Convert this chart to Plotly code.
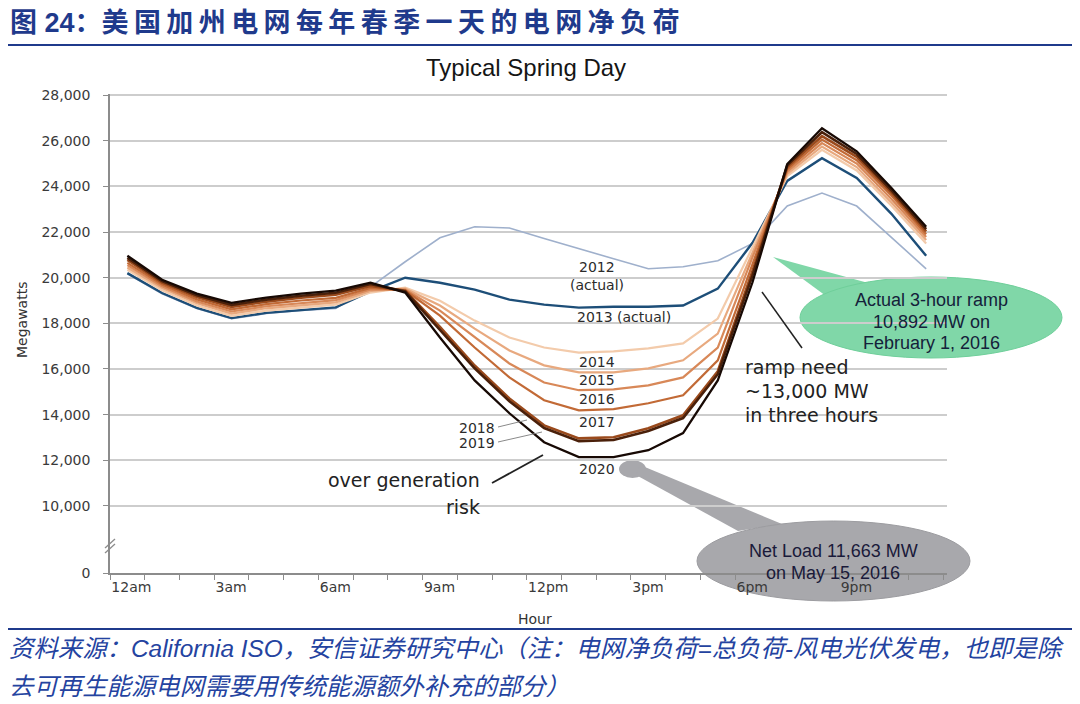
import plotly.graph_objects as go

# ---------------- data ----------------
hour_ending = list(range(1, 25))
years = ["2012", "2013", "2014", "2015", "2016", "2017", "2018", "2019", "2020"]

load_2012 = [20170, 19300, 18650, 18200, 18430, 18560, 18650, 19600, 20700, 21750, 22230, 22180,
             21720, 21290, 20830, 20390, 20480, 20740, 21500, 23140, 23710, 23140, 21750, 20390]
load_2013 = [20200, 19330, 18680, 18230, 18460, 18590, 18700, 19400, 20000, 19780, 19480, 19040,
             18820, 18690, 18730, 18730, 18780, 19520, 21530, 24240, 25240, 24370, 22800, 20960]
load_2014 = [20350, 19450, 18780, 18330, 18560, 18700, 18820, 19350, 19560, 18990, 18120, 17380,
             16940, 16720, 16770, 16900, 17120, 18210, 21300, 24450, 25600, 24700, 23150, 21500]
load_2015 = [20450, 19550, 18880, 18430, 18660, 18800, 18920, 19420, 19520, 18780, 17770, 16810,
             16160, 15850, 15850, 16030, 16380, 17550, 21100, 24550, 25750, 24850, 23300, 21650]
load_2016 = [20550, 19620, 18960, 18520, 18750, 18900, 19020, 19480, 19480, 18560, 17380, 16240,
             15410, 15070, 15110, 15280, 15630, 16940, 20900, 24650, 25900, 25000, 23450, 21780]
load_2017 = [20650, 19700, 19050, 18610, 18840, 19000, 19120, 19550, 19450, 18340, 16940, 15630,
             14630, 14190, 14240, 14500, 14850, 16380, 20600, 24750, 26050, 25150, 23600, 21900]
load_2018 = [20780, 19780, 19150, 18720, 18950, 19120, 19250, 19640, 19430, 17850, 16150, 14710,
             13530, 12960, 13010, 13400, 13970, 15900, 20300, 24850, 26200, 25300, 23730, 22030]
load_2019 = [20870, 19850, 19230, 18810, 19040, 19210, 19340, 19720, 19400, 17730, 16030, 14590,
             13410, 12840, 12890, 13280, 13850, 15770, 20100, 24920, 26380, 25420, 23830, 22130]
load_2020 = [20960, 19910, 19300, 18900, 19130, 19300, 19430, 19780, 19350, 17380, 15500, 14060,
             12790, 12140, 12140, 12440, 13190, 15500, 19800, 24980, 26550, 25540, 23930, 22230]

series = [load_2012, load_2013, load_2014, load_2015, load_2016, load_2017, load_2018, load_2019, load_2020]

y_tick_values = [10000, 12000, 14000, 16000, 18000, 20000, 22000, 24000, 26000, 28000]
y_tick_labels = ["10,000", "12,000", "14,000", "16,000", "18,000", "20,000", "22,000", "24,000", "26,000", "28,000"]
y_break_value = 7060          # axis bottom, labelled "0" (broken axis)
x_tick_labels = ["12am", "3am", "6am", "9am", "12pm", "3pm", "6pm", "9pm"]

# ---------------- styles ----------------
colors = ["#9fb0cc", "#1d4e78", "#f3cbab", "#e8a97f", "#d88858", "#c26a36", "#9a4a1c", "#4a200a", "#170904"]
widths = [1.6, 2.4, 2.2, 2.2, 2.2, 2.2, 2.6, 2.6, 2.3]

# screen-pixel layout (page body has an 8px margin)
OFF = 8
L, R, T, B = 110, 947, 94, 573
W, H = 1080 - OFF, 704 - OFF


def px(x):
    return (x - L) / (R - L)


def py(y):
    return (B - y) / (B - T)


fig = go.Figure()
for yr, vals, c, w in zip(years, series, colors, widths):
    fig.add_trace(go.Scatter(x=hour_ending, y=vals, mode="lines", name=yr,
                             line=dict(color=c, width=w), hoverinfo="skip", showlegend=False))

# x ticks every hour, labels every 3 hours; 12am sits half an hour before hour-ending 1
xt_vals = [k + 0.5 for k in range(25)]
xt_text = [x_tick_labels[k // 3] if (k % 3 == 0 and k < 24) else "" for k in range(25)]

axis_col = "#8c8c8c"
tick_font = dict(family="DejaVu Sans", size=14, color="#3a3a3a")

fig.update_layout(
    width=W, height=H, autosize=False,
    margin=dict(l=L - OFF, r=W - (R - OFF), t=T - OFF, b=H - (B - OFF), pad=0),
    paper_bgcolor="white", plot_bgcolor="white",
    xaxis=dict(range=[0.5, 24.6], tickmode="array", tickvals=xt_vals, ticktext=xt_text,
               ticks="outside", ticklen=5, tickcolor=axis_col, tickwidth=1.2,
               showline=True, linecolor=axis_col, linewidth=1.5, showgrid=False, zeroline=False,
               tickfont=tick_font, ticklabelposition="outside right"),
    yaxis=dict(range=[y_break_value, 28050], tickmode="array",
               tickvals=[y_break_value] + y_tick_values, ticktext=["0"] + y_tick_labels,
               ticks="outside", ticklen=5, tickcolor=axis_col, tickwidth=1.2,
               showline=True, linecolor=axis_col, linewidth=1.5,
               showgrid=True, gridcolor="#cdcdcd", gridwidth=1.5, zeroline=False,
               tickfont=tick_font, ticklabelstandoff=10),
)

shapes = []
# header & footer rules
shapes.append(dict(type="line", xref="paper", yref="paper", x0=px(5), x1=px(1076), y0=py(45), y1=py(45),
                   line=dict(color="#1f3a8c", width=2)))
shapes.append(dict(type="line", xref="paper", yref="paper", x0=px(5), x1=px(1076), y0=py(629), y1=py(629),
                   line=dict(color="#1f3a8c", width=2)))
# axis break marks
for dy in (0, 5):
    shapes.append(dict(type="line", xref="paper", yref="paper", x0=px(105), x1=px(115),
                       y0=py(548 + dy), y1=py(539 + dy), line=dict(color=axis_col, width=1.3)))

# green callout
green = "#80d7a8"
shapes.append(dict(type="path", xref="paper", yref="paper", layer="below",
                   path="M %f,%f L %f,%f L %f,%f Z" % (px(773), py(257), px(872), py(284), px(826), py(296)),
                   fillcolor=green, line=dict(width=0)))
shapes.append(dict(type="circle", xref="paper", yref="paper", layer="below",
                   x0=px(800), x1=px(1062), y0=py(358), y1=py(277),
                   fillcolor=green, line=dict(color="#6fcf9a", width=1)))
# gray callout
gray = "#a8a8ac"
shapes.append(dict(type="circle", xref="paper", yref="paper", layer="below",
                   x0=px(619), x1=px(646), y0=py(478), y1=py(460),
                   fillcolor=gray, line=dict(width=0)))
shapes.append(dict(type="path", xref="paper", yref="paper", layer="below",
                   path="M %f,%f L %f,%f L %f,%f L %f,%f Z" % (px(640), py(465), px(782), py(524),
                                                              px(738), py(531), px(636), py(475)),
                   fillcolor=gray, line=dict(width=0)))
shapes.append(dict(type="circle", xref="paper", yref="paper", layer="below",
                   x0=px(697), x1=px(970), y0=py(601), y1=py(521),
                   fillcolor=gray, line=dict(color="#9c9ca0", width=1)))
# leader lines
shapes.append(dict(type="line", xref="paper", yref="paper", x0=px(762), y0=py(292), x1=px(802), y1=py(348),
                   line=dict(color="#222222", width=1.5)))
shapes.append(dict(type="line", xref="paper", yref="paper", x0=px(492), y0=py(483), x1=px(543), y1=py(455),
                   line=dict(color="#222222", width=1.8)))
shapes.append(dict(type="line", xref="paper", yref="paper", x0=px(498), y0=py(427), x1=px(527), y1=py(420),
                   line=dict(color="#8a8a8a", width=1)))
shapes.append(dict(type="line", xref="paper", yref="paper", x0=px(498), y0=py(442), x1=px(542), y1=py(432),
                   line=dict(color="#8a8a8a", width=1)))
fig.update_layout(shapes=shapes)

ann = []


def text(t, x, y, size=14, color="#2b2b2b", family="DejaVu Sans", xa="center", ya="middle", **kw):
    ann.append(dict(text=t, x=px(x), y=py(y), xref="paper", yref="paper", showarrow=False,
                    xanchor=xa, yanchor=ya, font=dict(family=family, size=size, color=color), **kw))


sep = "\u2009"
header_cn = sep.join("美国加州电网每年春季一天的电网净负荷")
text("<b>图 24：" + header_cn + "</b>", 8, 23, size=27, color="#1f3a8c",
     family="Liberation Sans, Noto Sans CJK SC", xa="left")
text("Typical Spring Day", 526, 67, size=24, color="#151515", family="Liberation Sans")
text("Megawatts", 22, 320, size=14, color="#333333", textangle=-90)
text("Hour", 535, 619, size=14, color="#333333")

text("2012", 597, 267)
text("(actual)", 597, 285)
text("2013 (actual)", 624, 317)
text("2014", 597, 362)
text("2015", 597, 380)
text("2016", 597, 399)
text("2017", 597, 422)
text("2018", 497, 428, xa="right")
text("2019", 497, 443, xa="right")
text("2020", 597, 469)

text("ramp need", 743, 367, size=19, color="#222222", xa="left")
text("~13,000 MW", 743, 391, size=19, color="#222222", xa="left")
text("in three hours", 743, 415, size=19, color="#222222", xa="left")
text("over generation", 482, 480, size=19, color="#222222", xa="right")
text("risk", 482, 507, size=19, color="#222222", xa="right")

for t, y in (("Actual 3-hour ramp", 300), ("10,892 MW on", 322), ("February 1, 2016", 343)):
    text(t, 931, y, size=18, color="#14213a", family="Liberation Sans")
for t, y in (("Net Load 11,663 MW", 551), ("on May 15, 2016", 573)):
    text(t, 833, y, size=18, color="#1a1a3a", family="Liberation Sans")

foot_font = "Liberation Sans, Noto Sans CJK SC"
text("<i>资料来源：California ISO，安信证券研究中心（注：电网净负荷=总负荷-风电光伏发电，也即是除</i>",
     7, 648, size=24.4, color="#2443a0", family=foot_font, xa="left")
text("<i>去可再生能源电网需要用传统能源额外补充的部分）</i>",
     7, 686, size=24.4, color="#2443a0", family=foot_font, xa="left")

fig.update_layout(annotations=ann)
fig.write_html("out.html")
